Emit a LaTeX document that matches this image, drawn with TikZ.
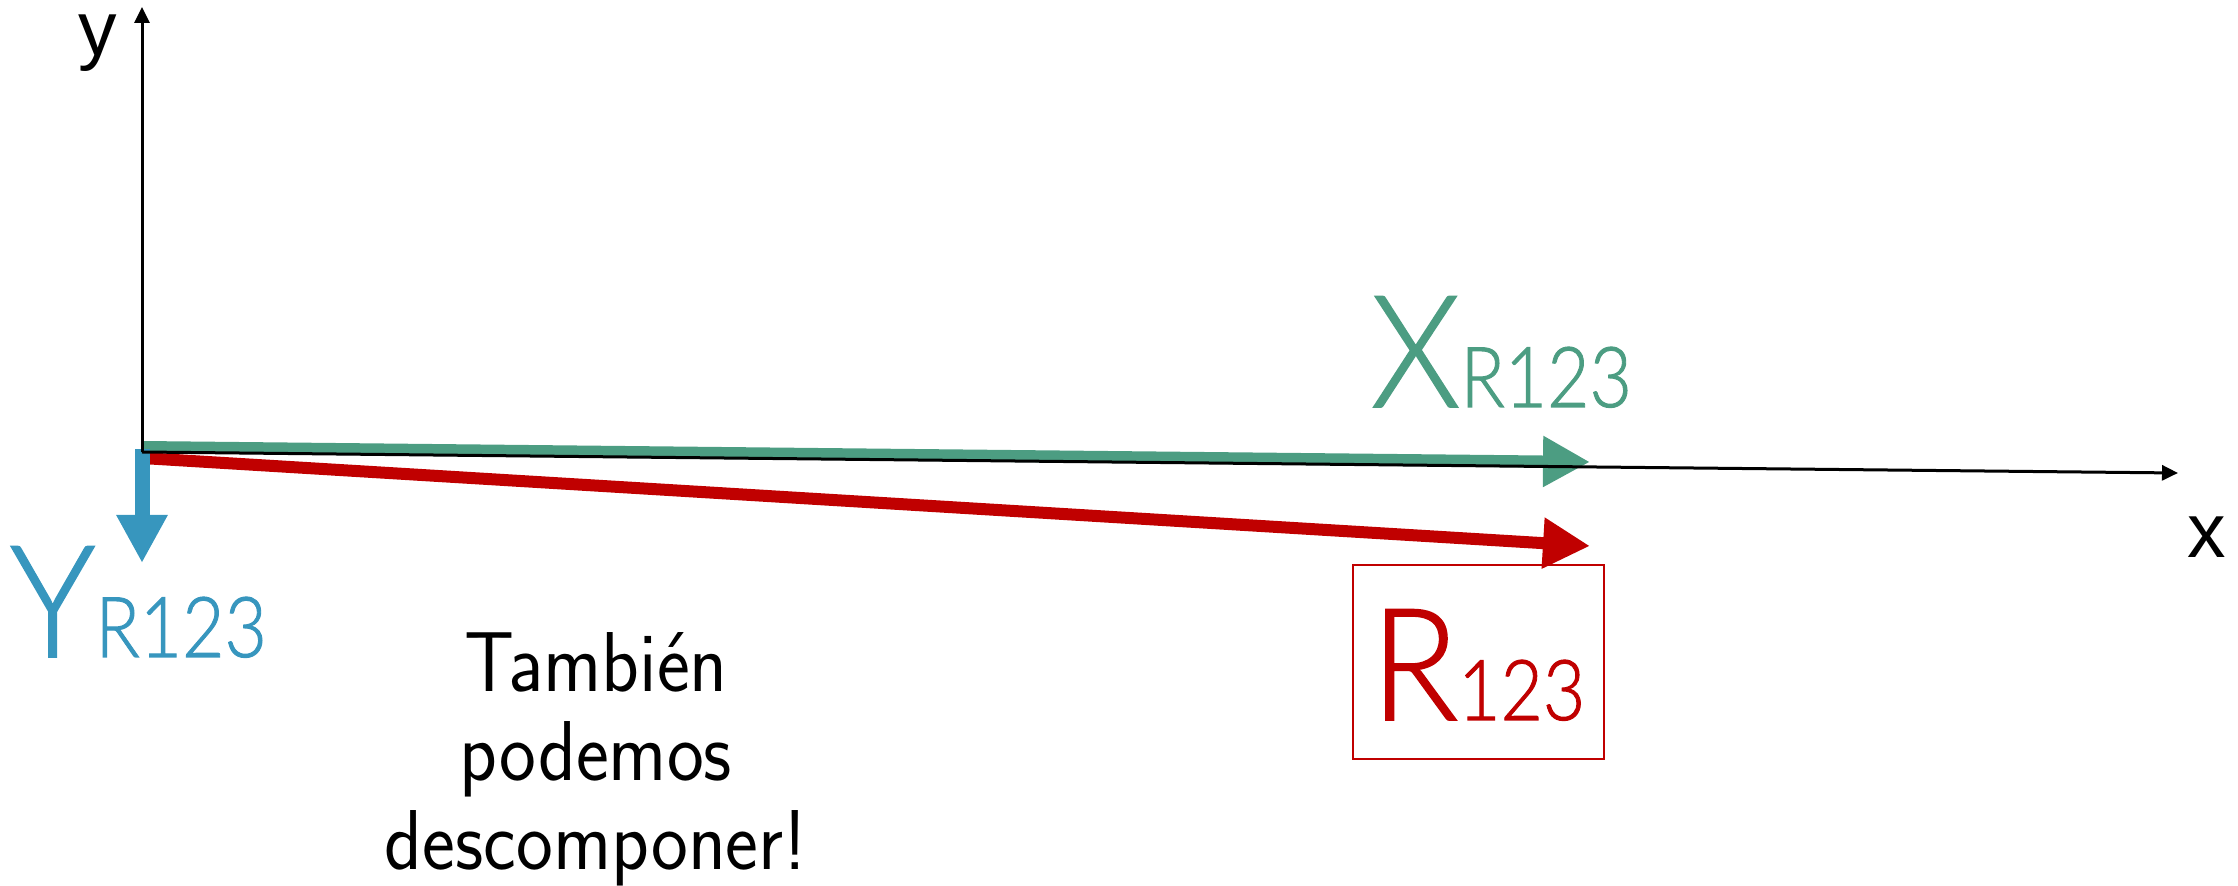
\documentclass[tikz,border=0pt]{standalone}
\usepackage{fontspec}
\setmainfont{Carlito}
\newfontfamily\lightfont{Lato}[UprightFont=* Light, UprightFeatures={FakeBold=1.2}]
\newfontfamily\axisfont{Liberation Sans}
\usetikzlibrary{arrows.meta}
\definecolor{vgreen}{RGB}{76,157,130}
\definecolor{vred}{RGB}{192,0,0}
\definecolor{vblue}{RGB}{55,150,190}
\tikzset{
  axisline/.style={line width=1.5pt, black, -{Triangle[length=8pt,width=7.5pt]}},
  vecarrow/.style={line width=6pt, -{Triangle[length=23.5pt,width=24pt]}},
  lbl/.style={inner sep=0pt, outer sep=0pt, anchor=base west},
  axislbl/.style={inner sep=0pt, anchor=base, font=\axisfont\fontsize{38.5}{38.5}\selectfont},
}
\newcommand{\vlabel}[2]{{\lightfont\fontsize{78}{78}\selectfont\scalebox{0.92}[1]{#1}}{\lightfont\fontsize{42}{42}\selectfont\scalebox{0.87}[1]{#2}}}
\begin{document}
\begin{tikzpicture}[x=0.5pt,y=-0.5pt]
\useasboundingbox (0,0) rectangle (2238,886);
% coordinates
\coordinate (O) at (142,452);
\coordinate (ytip) at (142,7);
\coordinate (xtip) at (2178,473);
\coordinate (gs) at (142,447);
\coordinate (ge) at (1590,462);
\coordinate (rs) at (142,458);
\coordinate (re) at (1590,546);
\coordinate (bs) at (142,449);
\coordinate (be) at (142,563);
% vectors
\draw[vecarrow, vgreen] (gs) -- (ge);
\draw[vecarrow, vred] (rs) -- (re);
\draw[line width=7.5pt, vblue, -{Triangle[length=24pt,width=24pt]}] (bs) -- (be);
% axes
\draw[axisline] (O) -- (ytip);
\draw[axisline] (O) -- (xtip);
\node[axislbl] (ylab) at (98,56) {y};
\node[axislbl] (xlab) at (2207,558) {x};
% labels
\node[lbl, text=vgreen] (xr) at (1371,407) {\vlabel{X}{R123}};
\node[lbl, text=vblue] (yr) at (10,657) {\vlabel{Y}{R123}};
\node[draw=vred, line width=1pt, minimum width=125.5pt, minimum height=97pt, inner sep=0pt] (rbox) at (1478.5,662) {};
\node[lbl, text=vred] (r) at (1371,720) {\vlabel{R}{123}};
% text
\node[inner sep=0pt, anchor=base, align=center, font=\sffamily\fontsize{42.5}{44.5}\selectfont] (txt) at (596,870)
  {\scalebox{0.92}[1]{También}\\\scalebox{0.92}[1]{podemos}\\\scalebox{0.92}[1]{descomponer!}};
\end{tikzpicture}
\end{document}
